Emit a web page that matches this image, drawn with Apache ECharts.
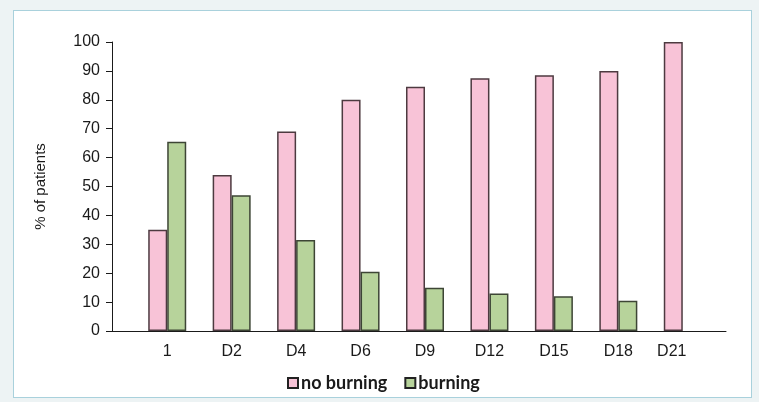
<!DOCTYPE html>
<html><head><meta charset="utf-8">
<script src="https://cdn.jsdelivr.net/npm/echarts@6/dist/echarts.min.js"></script>
<style>
html,body{margin:0;padding:0;background:#edf3f4;}
#frame{position:absolute;left:13px;top:10px;width:739px;height:388px;background:#fff;border:1px solid #a9d1dc;box-sizing:border-box;}
#c{position:absolute;left:0;top:0;width:759px;height:402px;}
</style></head>
<body>
<div id="frame"></div>
<div id="c"></div>
<script>
const categories = ['1','D2','D4','D6','D9','D12','D15','D18','D21'];
const noBurning = [35, 54, 69, 80, 84.5, 87.5, 88.5, 90, 100];
const burning = [65.5, 47, 31.5, 20.5, 15, 13, 12, 10.5, 0];
const yTicks = [0,10,20,30,40,50,60,70,80,90,100];

const chart = echarts.init(document.getElementById('c'), null, {renderer:'canvas'});
const font = 'Liberation Sans';
const gTop = 42, gBottom = 402-331;
chart.setOption({
  animation:false,
  backgroundColor:'transparent',
  grid:[
    {left:135, right:759-715, top:gTop, bottom:gBottom},
    {left:112, right:759-726, top:gTop, bottom:gBottom}
  ],
  xAxis:[
    {type:'category', gridIndex:0, data:categories.map((c,i)=> i===categories.length-1 ? {value:c, textStyle:{padding:[0,22,0,0]}} : c),
     axisLine:{show:false}, axisTick:{show:false},
     axisLabel:{color:'#1a1a1a', fontFamily:font, fontSize:16, margin:13}},
    {type:'value', gridIndex:1, min:0, max:1, axisLine:{show:true, lineStyle:{color:'#1a1a1a', width:1}},
     axisTick:{show:false}, axisLabel:{show:false}, splitLine:{show:false}}
  ],
  yAxis:[
    {type:'value', gridIndex:0, min:0, max:100, show:false},
    {type:'value', gridIndex:1, min:yTicks[0], max:yTicks[yTicks.length-1], interval:10,
     axisLine:{show:true, lineStyle:{color:'#1a1a1a', width:1}},
     axisTick:{show:true, length:6, lineStyle:{color:'#1a1a1a'}},
     axisLabel:{color:'#1a1a1a', fontFamily:font, fontSize:16, margin:12},
     splitLine:{show:false},
     name:'% of patients', nameLocation:'middle', nameGap:64, nameRotate:90,
     nameTextStyle:{color:'#1a1a1a', fontFamily:font, fontSize:15}}
  ],
  legend:{
    top:369, left:282, itemWidth:10, itemHeight:10, itemGap:17,
    textStyle:{fontFamily:'Lato, sans-serif', fontSize:18, fontWeight:'bold', color:'#1a1a1a', padding:[0,0,0,-2]},
    data:[{name:'no burning', icon:'rect', itemStyle:{borderColor:'#222', borderWidth:2}},
          {name:'burning', icon:'rect', itemStyle:{borderColor:'#222', borderWidth:2}}]
  },
  series:[
    {name:'no burning', type:'bar', xAxisIndex:0, yAxisIndex:0, data:noBurning.map(v=>v===0?'-':v), barWidth:19, barGap:'0%',
     itemStyle:{color:'#f8c3d7', borderColor:'#4d3a40', borderWidth:1.5}},
    {name:'burning', type:'bar', xAxisIndex:0, yAxisIndex:0, data:burning.map(v=>v===0?'-':v), barWidth:19, barGap:'0%',
     itemStyle:{color:'#b7d39b', borderColor:'#3d4535', borderWidth:1.5}}
  ]
});
</script>
</body></html>
